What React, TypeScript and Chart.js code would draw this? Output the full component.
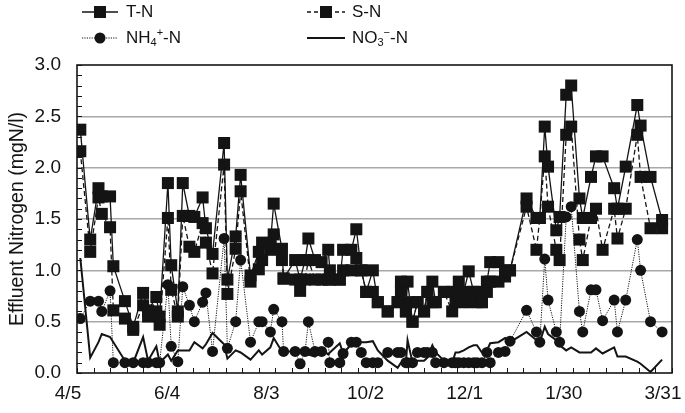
import React, { useEffect, useRef } from 'react';
import { Chart, registerables } from 'chart.js';

Chart.register(...registerables);

// ---- data (days counted from 4/5) ----
const sampleDays = [
  2, 8, 13, 15, 20, 22, 29, 34, 40, 43, 48, 50, 55, 57, 61, 64, 68, 71, 76, 78,
  82, 89, 91, 96, 99, 105, 110, 112, 117, 119, 124, 125, 132, 135, 138, 140, 144, 148, 152, 153,
  159, 161, 166, 169, 172, 175, 179, 182, 188, 194, 196, 199, 200, 203, 206, 210, 212, 215, 217, 222,
  227, 229, 231, 234, 237, 240, 242, 245, 248, 250, 255, 259, 262, 272, 278, 280, 283, 285, 290, 292,
  296, 299, 304, 306, 311, 314, 318, 325, 327, 332, 339, 341, 347, 354,
];
const tnValues = [
  2.37, 1.30, 1.80, 1.72, 1.72, 1.04, 0.70, 0.45, 0.78, 0.61, 0.74, 0.55, 1.85, 1.05, 0.60, 1.85, 1.53, 1.52, 1.71, 1.41,
  1.16, 2.24, 0.91, 1.33, 1.93, 0.95, 1.18, 1.27, 1.26, 1.65, 1.21, 0.92, 1.10, 0.91, 1.10, 1.31, 1.10, 1.08, 1.20, 1.00,
  0.91, 1.20, 1.20, 1.40, 1.00, 0.79, 1.00, 0.69, 0.60, 0.69, 0.89, 0.60, 0.89, 0.50, 0.69, 0.60, 0.79, 0.89, 0.69, 0.79,
  0.79, 0.79, 0.89, 0.79, 0.99, 0.79, 0.79, 0.69, 0.89, 1.08, 1.08, 0.99, 1.00, 1.70, 1.51, 1.51, 2.40, 2.01, 1.39, 1.52,
  2.71, 2.80, 1.70, 1.51, 1.91, 2.11, 2.11, 1.80, 1.60, 2.01, 2.61, 2.41, 1.91, 1.49,
];
const snValues = [
  2.16, 1.18, 1.71, 1.55, 1.42, 0.61, 0.53, 0.42, 0.66, 0.55, 0.60, 0.47, 1.51, 0.81, 0.55, 1.53, 1.23, 1.18, 1.46, 1.27,
  0.97, 2.03, 0.77, 1.21, 1.77, 0.89, 1.01, 1.10, 1.20, 1.35, 1.10, 0.92, 0.91, 0.80, 0.91, 1.10, 0.91, 0.91, 0.91, 0.91,
  0.91, 1.00, 1.00, 1.12, 1.00, 0.79, 0.79, 0.69, 0.60, 0.69, 0.80, 0.60, 0.69, 0.50, 0.69, 0.60, 0.79, 0.69, 0.69, 0.79,
  0.60, 0.69, 0.79, 0.69, 0.69, 0.79, 0.69, 0.69, 0.79, 0.89, 0.89, 0.94, 1.00, 1.62, 1.20, 1.51, 2.11, 1.62, 1.20, 1.10,
  2.32, 2.40, 1.30, 1.10, 1.51, 1.60, 1.20, 1.60, 1.31, 1.60, 2.32, 1.91, 1.41, 1.41,
];
const nh4Values = [
  0.53, 0.70, 0.70, 0.60, 0.80, 0.10, 0.10, 0.10, 0.10, 0.10, 0.10, 0.10, 0.86, 0.26, 0.11, 0.84, 0.66, 0.50, 0.69, 0.78,
  0.21, 1.31, 0.24, 0.50, 1.10, 0.30, 0.50, 0.50, 0.40, 0.62, 0.50, 0.21, 0.21, 0.09, 0.21, 0.50, 0.21, 0.21, 0.30, 0.10,
  0.10, 0.19, 0.30, 0.30, 0.20, 0.10, 0.10, 0.10, 0.20, 0.20, 0.20, 0.10, 0.10, 0.10, 0.20, 0.20, 0.20, 0.20, 0.10, 0.10,
  0.10, 0.10, 0.10, 0.10, 0.10, 0.10, 0.10, 0.10, 0.20, 0.10, 0.20, 0.21, 0.31, 0.61, 0.40, 0.30, 1.11, 0.71, 0.40, 0.30,
  1.52, 1.62, 0.60, 0.40, 0.81, 0.81, 0.51, 0.71, 0.40, 0.71, 1.30, 1.00, 0.50, 0.40,
];
const no3Values = [
  1.12, 0.15, 0.30, 0.38, 0.35, 0.30, 0.12, 0.10, 0.35, 0.12, 0.26, 0.10, 0.18, 0.12, 0.22, 0.22, 0.22, 0.30, 0.24, 0.28,
  0.39, 0.28, 0.14, 0.22, 0.20, 0.13, 0.22, 0.18, 0.25, 0.34, 0.21, 0.21, 0.21, 0.22, 0.20, 0.18, 0.16, 0.24, 0.18, 0.20,
  0.29, 0.19, 0.28, 0.30, 0.30, 0.30, 0.31, 0.22, 0.12, 0.05, 0.10, 0.10, 0.32, 0.10, 0.12, 0.12, 0.15, 0.27, 0.20, 0.12,
  0.10, 0.20, 0.20, 0.22, 0.25, 0.27, 0.27, 0.20, 0.22, 0.29, 0.30, 0.34, 0.30, 0.40, 0.32, 0.30, 0.45, 0.38, 0.32, 0.27,
  0.22, 0.25, 0.20, 0.20, 0.20, 0.24, 0.19, 0.25, 0.16, 0.16, 0.11, 0.09, 0.01, 0.13,
];

const xTickDays = [0, 60, 120, 180, 240, 300, 360];
const xTickLabels = ['4/5', '6/4', '8/3', '10/2', '12/1', '1/30', '3/31'];
const xMinorStep = 10;
const yMinorStep = 0.1;
const yAxisTitle = 'Effluent Nitrogen (mgN/l)';
const seriesNames = ['T-N', 'S-N', 'NH4+-N', 'NO3--N'];

const FONT = '"Liberation Sans", Arial, Helvetica, sans-serif';
const INK = '#141414';

const frameAndTicks = {
  id: 'frameAndTicks',
  beforeDatasetsDraw(chart: any) {
    const { ctx, chartArea: a, scales } = chart;
    ctx.save();
    ctx.strokeStyle = INK;
    ctx.lineWidth = 1;
    ctx.beginPath();
    for (let d = scales.x.min; d <= scales.x.max + 1e-9; d += xMinorStep) {
      const px = Math.round(scales.x.getPixelForValue(d)) + 0.5;
      ctx.moveTo(px, a.bottom);
      ctx.lineTo(px, a.bottom - 5);
    }
    const n = Math.round((scales.y.max - scales.y.min) / yMinorStep);
    for (let i = 0; i <= n; i++) {
      const py = Math.round(scales.y.getPixelForValue(scales.y.min + i * yMinorStep)) + 0.5;
      ctx.moveTo(a.left, py);
      ctx.lineTo(a.left + 5, py);
    }
    ctx.stroke();
    ctx.lineWidth = 1.6;
    ctx.strokeRect(a.left, a.top, a.right - a.left, a.bottom - a.top);
    ctx.restore();
  },
};

function drawRichLabel(ctx: CanvasRenderingContext2D, x: number, y: number, parts: [string, number][]) {
  // parts: [text, mode] mode 0 normal, 1 subscript, 2 superscript
  let cx = x;
  for (const [t, mode] of parts) {
    if (mode === 0) {
      ctx.font = `17px ${FONT}`;
      ctx.fillText(t, cx, y);
    } else {
      ctx.font = `11px ${FONT}`;
      ctx.fillText(t, cx, mode === 1 ? y + 5 : y - 5);
    }
    cx += ctx.measureText(t).width;
  }
}

const legendPlugin = {
  id: 'customLegend',
  afterDraw(chart: any) {
    const ctx: CanvasRenderingContext2D = chart.ctx;
    ctx.save();
    ctx.fillStyle = INK;
    ctx.strokeStyle = INK;
    ctx.textBaseline = 'middle';
    const r1 = 12, r2 = 38;
    const c1 = [82, 118, 100, 126];
    const c2 = [307, 345, 326, 352];
    // T-N
    ctx.lineWidth = 1.4;
    ctx.setLineDash([]);
    ctx.beginPath(); ctx.moveTo(c1[0], r1); ctx.lineTo(c1[1], r1); ctx.stroke();
    ctx.fillRect(c1[2] - 6, r1 - 6, 12, 12);
    drawRichLabel(ctx, c1[3], r1, [[seriesNames[0], 0]]);
    // S-N
    ctx.setLineDash([4, 3]);
    ctx.beginPath(); ctx.moveTo(c2[0], r1); ctx.lineTo(c2[1], r1); ctx.stroke();
    ctx.setLineDash([]);
    ctx.fillRect(c2[2] - 6, r1 - 6, 12, 12);
    drawRichLabel(ctx, c2[3], r1, [[seriesNames[1], 0]]);
    // NH4
    ctx.lineWidth = 1;
    ctx.setLineDash([1.2, 1.2]);
    ctx.beginPath(); ctx.moveTo(c1[0], r2); ctx.lineTo(c1[1], r2); ctx.stroke();
    ctx.setLineDash([]);
    ctx.beginPath(); ctx.arc(c1[2], r2, 5.5, 0, Math.PI * 2); ctx.fill();
    drawRichLabel(ctx, c1[3], r2, [['NH', 0], ['4', 1], ['+', 2], ['-N', 0]]);
    // NO3
    ctx.lineWidth = 2;
    ctx.beginPath(); ctx.moveTo(c2[0], r2); ctx.lineTo(c2[1], r2); ctx.stroke();
    drawRichLabel(ctx, c2[3], r2, [['NO', 0], ['3', 1], ['\u2212', 2], ['-N', 0]]);
    ctx.restore();
  },
};

function toPoints(values: number[]) {
  return sampleDays.map((d, i) => ({ x: d, y: values[i] }));
}

export default function App() {
  const ref = useRef<HTMLCanvasElement | null>(null);
  useEffect(() => {
    document.body.style.margin = '0';
    document.body.style.overflow = 'hidden';
    const canvas = ref.current;
    if (!canvas) return;
    const tickFont = { family: FONT, size: 19 };
    const chart = new Chart(canvas, {
      type: 'line',
      data: {
        datasets: [
          {
            label: seriesNames[0],
            data: toPoints(tnValues),
            borderColor: INK,
            borderWidth: 1.3,
            pointStyle: 'rect',
            pointRadius: 8.5,
            pointBackgroundColor: INK,
            pointBorderWidth: 0,
            tension: 0,
          },
          {
            label: seriesNames[1],
            data: toPoints(snValues),
            borderColor: INK,
            borderWidth: 1.3,
            borderDash: [5, 3],
            pointStyle: 'rect',
            pointRadius: 8.5,
            pointBackgroundColor: INK,
            pointBorderWidth: 0,
            tension: 0,
          },
          {
            label: seriesNames[2],
            data: toPoints(nh4Values),
            borderColor: INK,
            borderWidth: 1,
            borderDash: [1.2, 1.2],
            pointStyle: 'circle',
            pointRadius: 5.5,
            pointBackgroundColor: INK,
            pointBorderWidth: 0,
            tension: 0,
          },
          {
            label: seriesNames[3],
            data: toPoints(no3Values),
            borderColor: INK,
            borderWidth: 2,
            pointRadius: 0,
            tension: 0,
          },
        ],
      },
      options: {
        responsive: false,
        animation: false,
        devicePixelRatio: 1,
        layout: { padding: { top: 65, right: 13, left: 0, bottom: 0 } },
        plugins: { legend: { display: false }, tooltip: { enabled: false } },
        scales: {
          x: {
            type: 'linear',
            min: 0,
            max: 360,
            afterBuildTicks: (s: any) => {
              s.ticks = xTickDays.map((v) => ({ value: v }));
            },
            afterFit: (s: any) => {
              s.height = 40;
              s.paddingLeft = 0;
              s.paddingRight = 0;
            },
            ticks: {
              autoSkip: false,
              maxRotation: 0,
              padding: 9,
              labelOffset: -9,
              color: INK,
              font: tickFont,
              callback: (v: any) => {
                const i = xTickDays.indexOf(Number(v));
                return i >= 0 ? xTickLabels[i] : '';
              },
            },
            grid: { display: false, drawTicks: false },
            border: { display: false },
          },
          y: {
            min: 0,
            max: 3,
            afterFit: (s: any) => {
              s.width = 77;
            },
            ticks: {
              stepSize: 0.5,
              padding: 16,
              color: INK,
              font: tickFont,
              callback: (v: any) => Number(v).toFixed(1),
            },
            grid: {
              drawTicks: false,
              lineWidth: 1.5,
              color: (c: any) => (c.tick && (c.tick.value <= 0 || c.tick.value >= 3) ? 'rgba(0,0,0,0)' : '#a8a8a8'),
            },
            border: { display: false },
            title: {
              display: true,
              text: yAxisTitle,
              color: INK,
              font: { family: FONT, size: 19.5 },
              padding: { top: 6, bottom: 0 },
            },
          },
        },
      },
      plugins: [frameAndTicks, legendPlugin],
    } as any);
    return () => chart.destroy();
  }, []);
  return <canvas ref={ref} width={685} height={413} style={{ display: 'block' }} />;
}
